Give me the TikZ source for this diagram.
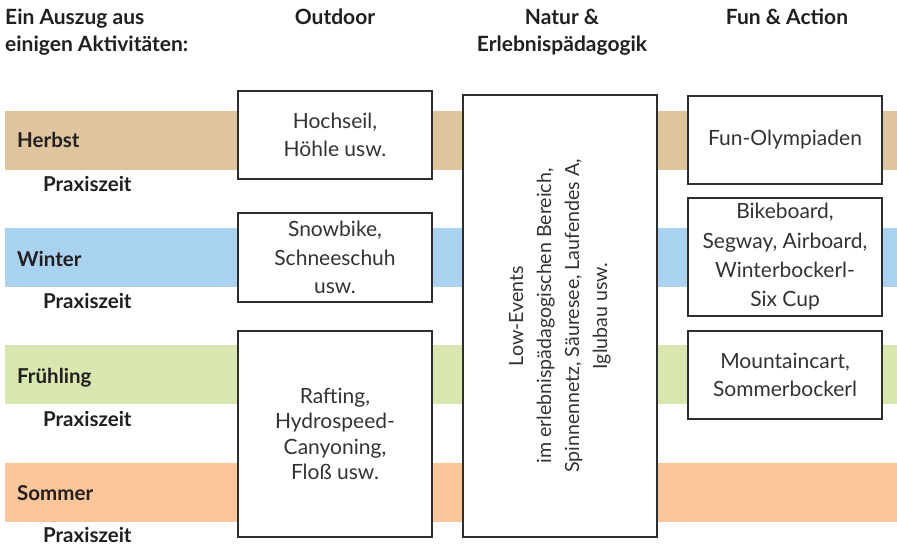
\documentclass[tikz,border=0pt]{standalone}
\usepackage{fontspec}
\setmainfont{Lato}
\definecolor{herbst}{HTML}{DFC59E}
\definecolor{winter}{HTML}{A8D2F0}
\definecolor{fruehling}{HTML}{D8E6B0}
\definecolor{sommer}{HTML}{FBC69A}
\definecolor{boxline}{HTML}{2E2E2E}
\definecolor{textgray}{HTML}{333333}
\definecolor{labelblack}{HTML}{231F20}
\begin{document}
\begin{tikzpicture}[x=1pt,y=-1pt,
  actbox/.style={draw=boxline, line width=1.2pt, fill=white, minimum width=194pt,
    inner sep=0pt, align=center, text=textgray, font=\fontsize{21}{28.5}\selectfont},
  head/.style={font=\bfseries\fontsize{21}{27}\selectfont, text=labelblack, inner sep=0pt},
  season/.style={font=\bfseries\fontsize{20.5}{27}\selectfont, text=labelblack, inner sep=0pt},
]
\useasboundingbox (0,0) rectangle (897,548);
% season bands
\fill[herbst]    (5,111) rectangle (897,170);
\fill[winter]    (5,228) rectangle (897,287);
\fill[fruehling] (5,345) rectangle (897,404);
\fill[sommer]    (5,463) rectangle (897,522);
% headers
\node[head, anchor=base west] (hdra) at (5,25) {Ein Auszug aus};
\node[head, anchor=base west] (hdrb) at (5,52) {einigen Aktivitäten:};
\node[head, anchor=base] (hdroutdoor) at (335,25) {Outdoor};
\node[head, anchor=base] (hdrnatur) at (562,25) {Natur \&};
\node[head, anchor=base] (hdrerleb) at (562,52) {Erlebnispädagogik};
\node[head, anchor=base] (hdrfun) at (787,25) {Fun \& Action};
% season labels
\node[season, anchor=base west] (herbst) at (17,148) {Herbst};
\node[season, anchor=base west] (praxis1) at (43,192) {Praxiszeit};
\node[season, anchor=base west] (winter) at (17,266) {Winter};
\node[season, anchor=base west] (praxis2) at (43,308) {Praxiszeit};
\node[season, anchor=base west] (fruehling) at (17,383) {Frühling};
\node[season, anchor=base west] (praxis3) at (43,426) {Praxiszeit};
\node[season, anchor=base west] (sommer) at (17,500) {Sommer};
\node[season, anchor=base west] (praxis4) at (43,542) {Praxiszeit};
% outdoor boxes
\node[actbox, minimum height=88pt] (hochseil) at (335,135) {Hochseil,\\Höhle usw.};
\node[actbox, minimum height=89pt] (snowbike) at (335,257.5) {Snowbike,\\Schneeschuh\\usw.};
\node[actbox, minimum height=206pt, font=\fontsize{21}{25.5}\selectfont] (rafting) at (335,434) {Rafting,\\Hydrospeed-\\Canyoning,\\Floß usw.};
% middle box
\node[actbox, rotate=90, minimum width=442pt, minimum height=194pt, font=\fontsize{19.6}{28}\selectfont] (natur) at (560,316)
  {Low-Events\\im erlebnispädagogischen Bereich,\\Spinnennetz, Säuresee, Laufendes A,\\Iglubau usw.};
% fun boxes
\node[actbox, minimum height=88pt] (funolymp) at (785,140) {Fun-Olympiaden};
\node[actbox, minimum height=118pt, font=\fontsize{21}{29.3}\selectfont] (bikeboard) at (785,257) {Bikeboard,\\Segway, Airboard,\\Winterbockerl-\\Six Cup};
\node[actbox, minimum height=88pt] (mountain) at (785,375) {Mountaincart,\\Sommerbockerl};
\end{tikzpicture}
\end{document}
